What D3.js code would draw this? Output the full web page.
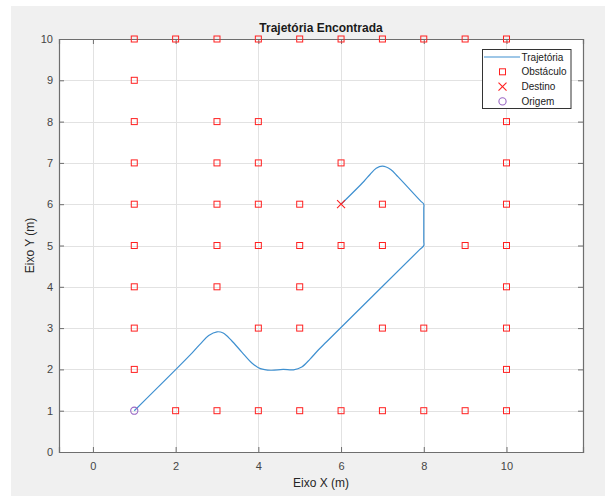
<!DOCTYPE html>
<html>
<head>
<meta charset="utf-8">
<script src="https://cdn.jsdelivr.net/npm/d3@7"></script>
<style>
  html, body { margin: 0; padding: 0; background: #ffffff; }
  svg { display: block; }
  text { font-family: "Liberation Sans", Arial, Helvetica, sans-serif; }
</style>
</head>
<body>
<svg id="chart" width="605" height="496"></svg>
<script>
// Obstacle grid cells (x, y)
const obstacleX = [1,2,3,4,5,6,7,8,9,10, 1, 1,3,4,10, 1,3,4,6,10, 1,3,4,5,7,10, 1,3,4,5,6,7,9,10, 1,3,5,10, 1,4,5,7,8,10, 1,10, 2,3,4,5,6,7,8,9,10];
const obstacleY = [10,10,10,10,10,10,10,10,10,10, 9, 8,8,8,8, 7,7,7,7,7, 6,6,6,6,6,6, 5,5,5,5,5,5,5,5, 4,4,4,4, 3,3,3,3,3,3, 2,2, 1,1,1,1,1,1,1,1,1];

// Path found from the origin to the destination
const pathX = [1, 2.4, 2.6, 2.8, 3.0, 3.15, 3.35, 3.6, 3.85, 4.05, 4.3, 4.6, 4.85, 5.05, 5.25, 5.45, 5.65, 7.9, 8, 8, 8, 8, 7.92, 7.38, 7.2, 7.0, 6.85, 6.7, 6.55, 6];
const pathY = [1, 2.4, 2.62, 2.82, 2.91, 2.88, 2.7, 2.42, 2.15, 2.02, 1.98, 2.0, 1.99, 2.06, 2.25, 2.47, 2.67, 4.9, 5, 5.1, 5.9, 6, 6.08, 6.66, 6.84, 6.92, 6.87, 6.72, 6.55, 6];

const origin = [1, 1];
const destination = [6, 6];

const xTicks = [0, 2, 4, 6, 8, 10];
const yTicks = [0, 1, 2, 3, 4, 5, 6, 7, 8, 9, 10];
const legendLabels = ["Trajetória", "Obstáculo", "Destino", "Origem"];

const svg = d3.select("#chart");

// figure background
svg.append("rect").attr("x", 11).attr("y", 6).attr("width", 594).attr("height", 490).attr("fill", "#f0f0f0");

const plot = { left: 59, top: 39, right: 583, bottom: 452 };
const x = d3.scaleLinear().domain([-0.82, 11.85]).range([plot.left, plot.right]);
const y = d3.scaleLinear().domain([0, 10]).range([plot.bottom, plot.top]);

const axisColor = "#6e6e6e";
const textColor = "#454545";

svg.append("rect")
  .attr("x", plot.left).attr("y", plot.top)
  .attr("width", plot.right - plot.left).attr("height", plot.bottom - plot.top)
  .attr("fill", "#ffffff");

// grid
const grid = svg.append("g").attr("stroke", "#e2e2e2").attr("stroke-width", 1);
xTicks.forEach(t => grid.append("line")
  .attr("x1", Math.round(x(t)) + 0.5).attr("x2", Math.round(x(t)) + 0.5)
  .attr("y1", plot.top).attr("y2", plot.bottom));
yTicks.forEach(t => grid.append("line")
  .attr("y1", Math.round(y(t)) + 0.5).attr("y2", Math.round(y(t)) + 0.5)
  .attr("x1", plot.left).attr("x2", plot.right));

// axes with inward ticks on all four sides
const tickLen = 5;
const bottomAxis = d3.axisBottom(x).tickValues(xTicks).tickSize(-tickLen).tickPadding(10).tickFormat(d3.format("d"));
const topAxis = d3.axisTop(x).tickValues(xTicks).tickSize(-tickLen).tickFormat("");
const leftAxis = d3.axisLeft(y).tickValues(yTicks).tickSize(-tickLen).tickPadding(6).tickFormat(d3.format("d"));
const rightAxis = d3.axisRight(y).tickValues(yTicks).tickSize(-tickLen).tickFormat("");

function styleAxis(g) {
  g.selectAll("path").attr("stroke", axisColor);
  g.selectAll("line").attr("stroke", axisColor);
  g.selectAll("text").attr("fill", textColor).style("font-size", "11px")
    .style("font-family", "'Liberation Sans', Arial, sans-serif");
}
svg.append("g").attr("transform", `translate(0,${plot.bottom})`).call(bottomAxis).call(styleAxis);
svg.append("g").attr("transform", `translate(0,${plot.top})`).call(topAxis).call(styleAxis);
svg.append("g").attr("transform", `translate(${plot.left},0)`).call(leftAxis).call(styleAxis);
svg.append("g").attr("transform", `translate(${plot.right},0)`).call(rightAxis).call(styleAxis);
svg.selectAll(".domain").attr("stroke-width", 1.2);

// trajectory
const pathData = pathX.map((v, i) => [v, pathY[i]]);
const line = d3.line().x(d => x(d[0])).y(d => y(d[1])).curve(d3.curveCatmullRom.alpha(0.5));
svg.append("path").datum(pathData)
  .attr("d", line).attr("fill", "none")
  .attr("stroke", "#3f90d0").attr("stroke-width", 1.2);

// obstacles
const red = "#ff2020";
const sq = 6;
svg.append("g").selectAll("rect")
  .data(obstacleX.map((v, i) => [v, obstacleY[i]]))
  .join("rect")
  .attr("x", d => x(d[0]) - sq / 2).attr("y", d => y(d[1]) - sq / 2)
  .attr("width", sq).attr("height", sq)
  .attr("fill", "none").attr("stroke", red).attr("stroke-width", 1);

// destination
function cross(g, cx, cy, r) {
  g.append("path")
    .attr("d", `M${cx - r},${cy - r}L${cx + r},${cy + r}M${cx - r},${cy + r}L${cx + r},${cy - r}`)
    .attr("stroke", red).attr("stroke-width", 1.1).attr("fill", "none");
}
cross(svg, x(destination[0]), y(destination[1]), 4);

// origin
const purple = "#9a68c4";
svg.append("circle").attr("cx", x(origin[0])).attr("cy", y(origin[1])).attr("r", 3.6)
  .attr("fill", "none").attr("stroke", purple).attr("stroke-width", 1.1);

// title and axis labels
svg.append("text").attr("x", (plot.left + plot.right) / 2).attr("y", 32)
  .attr("text-anchor", "middle").attr("fill", "#1a1a1a")
  .style("font-size", "12px").style("font-weight", "bold").text("Trajetória Encontrada");
svg.append("text").attr("x", (plot.left + plot.right) / 2).attr("y", 487)
  .attr("text-anchor", "middle").attr("fill", "#262626")
  .style("font-size", "12px").text("Eixo X (m)");
svg.append("text").attr("transform", `translate(34,${(plot.top + plot.bottom) / 2}) rotate(-90)`)
  .attr("text-anchor", "middle").attr("fill", "#262626")
  .style("font-size", "12px").text("Eixo Y (m)");

// legend
const lg = svg.append("g");
lg.append("rect").attr("x", 482.5).attr("y", 49.5).attr("width", 88.5).attr("height", 59)
  .attr("fill", "#ffffff").attr("stroke", "#333333").attr("stroke-width", 1);
const rowY = i => 57 + i * 14.8;
const markX = 502.5;
legendLabels.forEach((lab, i) => {
  lg.append("text").attr("x", 521.5).attr("y", rowY(i)).attr("dy", "0.35em")
    .attr("fill", "#1a1a1a").style("font-size", "10px").text(lab);
});
lg.append("line").attr("x1", 484).attr("x2", 520).attr("y1", rowY(0)).attr("y2", rowY(0))
  .attr("stroke", "#3f90d0").attr("stroke-width", 1.2);
lg.append("rect").attr("x", markX - sq / 2).attr("y", rowY(1) - sq / 2).attr("width", sq).attr("height", sq)
  .attr("fill", "none").attr("stroke", red).attr("stroke-width", 1);
cross(lg, markX, rowY(2), 4);
lg.append("circle").attr("cx", markX).attr("cy", rowY(3)).attr("r", 3.6)
  .attr("fill", "none").attr("stroke", purple).attr("stroke-width", 1.1);
</script>
</body>
</html>
